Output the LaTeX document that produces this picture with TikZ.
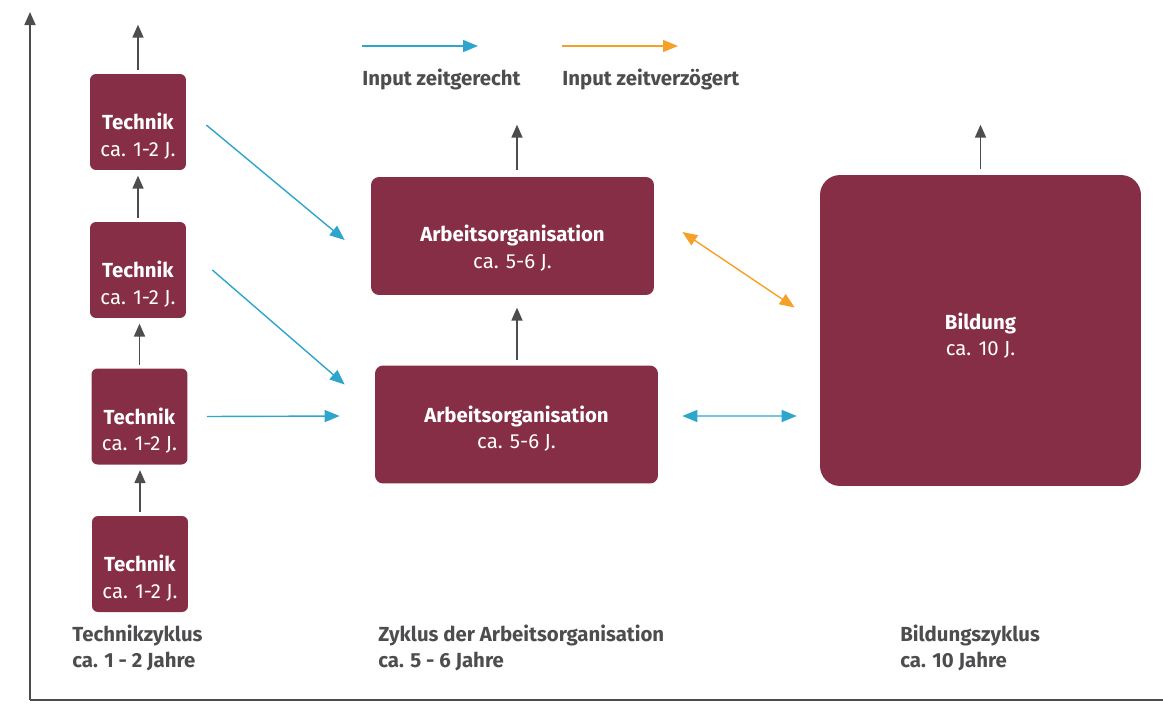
\documentclass[tikz,border=0pt]{standalone}
\usepackage{fontspec}
\setmainfont{Fira Sans}
\usepackage{xcolor}
\usetikzlibrary{arrows.meta,positioning,calc}
\definecolor{cyclered}{RGB}{133,46,70}
\definecolor{inputblue}{RGB}{45,165,205}
\definecolor{inputorange}{RGB}{245,160,40}
\definecolor{darkgray}{RGB}{77,77,79}

\begin{document}
\begin{tikzpicture}[x=0.02cm, y=-0.02cm,
  boxtext/.style={text=white, align=center, inner sep=0pt, yshift=-0.24cm, font=\fontsize{11.6}{15}\selectfont},
  techbox/.style={fill=cyclered, rounded corners=0.12cm, minimum width=1.92cm, minimum height=1.92cm, label={[boxtext, yshift=-0.04cm]center:#1}},
  orgbox/.style={fill=cyclered, rounded corners=0.16cm, minimum width=5.66cm, minimum height=2.36cm, label={[boxtext]center:#1}},
  edubox/.style={fill=cyclered, rounded corners=0.4cm, minimum width=6.42cm, minimum height=6.22cm, label={[boxtext, yshift=0.14cm]center:#1}},
  caption/.style={text=darkgray, align=left, anchor=west, inner sep=0pt, font=\bfseries\fontsize{11.6}{15}\selectfont},
  uparrow/.style={-{Triangle[length=2.6mm,width=2.2mm]}, line width=1pt, color=darkgray},
  bluearrow/.style={-{Triangle[length=3mm,width=2.4mm]}, line width=0.8pt, color=inputblue},
  orangearrow/.style={-{Triangle[length=3mm,width=2.4mm]}, line width=0.8pt, color=inputorange}]
\useasboundingbox (0,0) rectangle (1163,704);

% axes
\coordinate (origin) at (30,700);
\draw[uparrow] (origin) -- (30,12);
\draw[uparrow] (origin) -- (1176,700);

% legend
\node[caption] (legblue) at (362,79) {Input zeitgerecht};
\node[caption] (legorange) at (562,79) {Input zeitverzögert};
\draw[bluearrow] ($(legblue.west)+(0,-33)$) -- ++(116,0);
\draw[orangearrow] ($(legorange.west)+(0,-33)$) -- ++(116,0);

% technik cycle
\node[techbox={\textbf{Technik}\\ca. 1-2 J.}] (t1) at (138,122) {};
\node[techbox={\textbf{Technik}\\ca. 1-2 J.}] (t2) at (138,270) {};
\node[techbox={\textbf{Technik}\\ca. 1-2 J.}] (t3) at (139.5,416.5) {};
\node[techbox={\textbf{Technik}\\ca. 1-2 J.}] (t4) at (140,564) {};
\draw[uparrow, shorten <=2pt, shorten >=3pt] (t4.north) -- (t4.north |- t3.south);
\draw[uparrow, shorten <=2pt, shorten >=3pt] (t3.north) -- (t3.north |- t2.south);
\draw[uparrow, shorten <=2pt, shorten >=3pt] (t2.north) -- (t2.north |- t1.south);
\draw[uparrow, shorten <=2pt] (t1.north) -- ++(0,-49);

% arbeitsorganisation cycle
\node[orgbox={\textbf{Arbeitsorganisation}\\ca. 5-6 J.}] (ao1) at (512.5,236) {};
\begin{scope}[boxtext/.append style={yshift=0.16cm}]
\node[orgbox={\textbf{Arbeitsorganisation}\\ca. 5-6 J.}] (ao2) at (516.5,424.5) {};
\end{scope}
\draw[uparrow, shorten <=3pt, shorten >=7pt] (ao2.north -| 517,0) -- (ao1.south -| 517,0);
\draw[uparrow, shorten <=4pt] (ao1.north -| 517,0) -- ++(0,-52);

% bildung cycle
\node[edubox={\textbf{Bildung}\\ca. 10 J.}] (bild) at (980.5,330.5) {};
\draw[uparrow, shorten <=3pt] (bild.north) -- ++(0,-50);

% inputs
\draw[bluearrow] ($(t1.east)+(20,3)$) -- ($(ao1.west)+(-26,4)$);
\draw[bluearrow] ($(t2.east)+(26,0)$) -- ($(ao2.west)+(-30,-40)$);
\draw[bluearrow] ($(t3.east)+(19,0)$) -- ($(ao2.west)+(-35,-8.5)$);
\draw[orangearrow, {Triangle[length=3mm,width=2.4mm]}-{Triangle[length=3mm,width=2.4mm]}] ($(ao1.east)+(28,-4)$) -- ($(bild.west)+(-25,-23)$);
\draw[bluearrow, {Triangle[length=3mm,width=2.4mm]}-{Triangle[length=3mm,width=2.4mm]}] ($(ao2.east)+(24,-8.5)$) -- ($(bild.west)+(-23,85.5)$);

% captions
\node[caption] (captech) at (72,648) {Technikzyklus\\ca. 1 - 2 Jahre};
\node[caption] (caporg) at (378,648) {Zyklus der Arbeitsorganisation\\ca. 5 - 6 Jahre};
\node[caption] (capedu) at (900,648) {Bildungszyklus\\ca. 10 Jahre};
\end{tikzpicture}
\end{document}
